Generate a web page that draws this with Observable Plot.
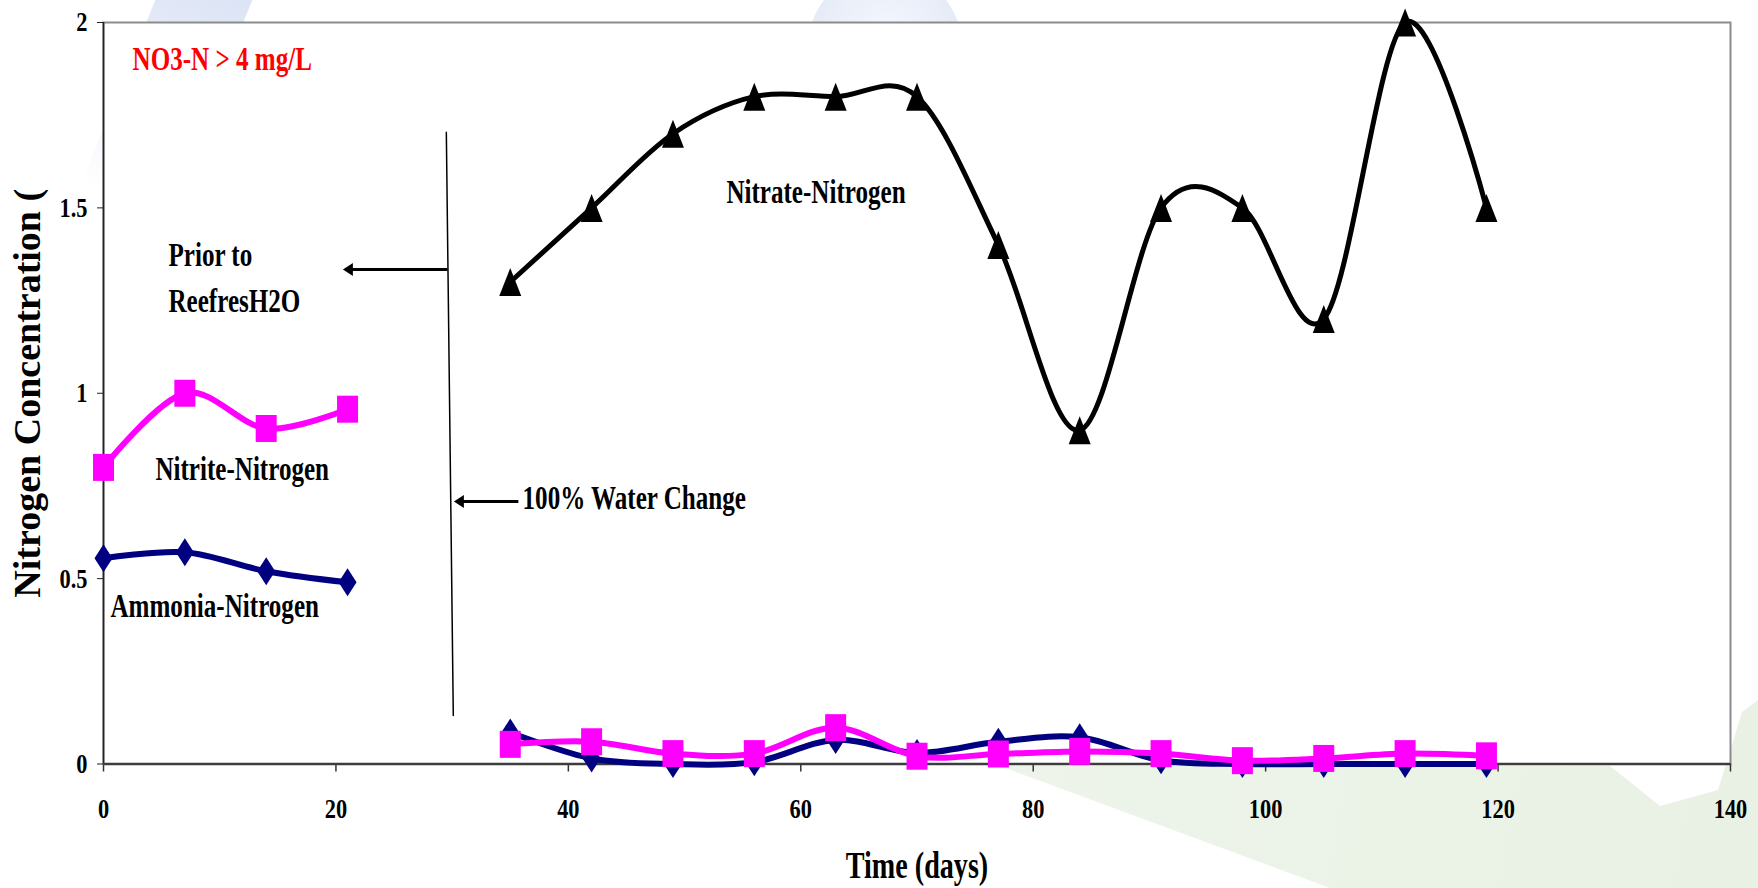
<!DOCTYPE html>
<html>
<head>
<meta charset="utf-8">
<script src="https://cdn.jsdelivr.net/npm/d3@7"></script>
<script src="https://cdn.jsdelivr.net/npm/@observablehq/plot@0.6"></script>
<style>
  html, body { margin: 0; padding: 0; background: #fff; overflow: hidden; }
  #wrap { position: relative; width: 1758px; height: 888px; overflow: hidden; background: #fff; }
  .deco { position: absolute; pointer-events: none; }
  #blue1 { left: 175px; top: -40px; width: 90px; height: 260px;
           background: linear-gradient(to bottom, #d9e1f4 0%, #e6ebf8 40%, rgba(246,248,253,0) 100%);
           transform: rotate(22deg); transform-origin: top center; }
  #blue2 { left: 808px; top: -30px; width: 154px; height: 154px; border-radius: 50%;
           background: radial-gradient(circle at 50% 45%, #f6f8fd 0%, #e8edf8 55%, #d9e1f4 100%); }
  #green { left: 0; top: 0; width: 1758px; height: 888px;
           background: linear-gradient(100deg, rgba(246,250,243,0.5) 0%, #eef4ea 55%, #e9f1e4 100%);
           clip-path: polygon(1000px 766px, 1610px 766px, 1660px 806px, 1718px 790px, 1742px 712px, 1758px 700px, 1758px 888px, 1330px 888px); }
  #chart { position: absolute; left: 0; top: 0; }
</style>
</head>
<body>
<div id="wrap">
  <div class="deco" id="blue1"></div>
  <div class="deco" id="blue2"></div>
  <div class="deco" id="green"></div>
  <div id="chart"></div>
</div>
<script>
// ---- data ----
const daysPre = [0, 7, 14, 21];
const daysPost = [35, 42, 49, 56, 63, 70, 77, 84, 91, 98, 105, 112, 119];
const ammoniaPre = [0.555, 0.571, 0.52, 0.49];
const ammoniaPost = [0.085, 0.015, 0.0, 0.005, 0.065, 0.03, 0.06, 0.072, 0.01, 0.0, 0.0, 0.0, 0.0];
const nitritePre = [0.80, 1.00, 0.905, 0.957];
const nitritePost = [0.053, 0.06, 0.028, 0.028, 0.098, 0.021, 0.027, 0.034, 0.028, 0.009, 0.015, 0.028, 0.022];
const nitratePost = [1.3, 1.5, 1.7, 1.8, 1.8, 1.8, 1.4, 0.9, 1.5, 1.5, 1.2, 2.0, 1.5];
const xTicks = [0, 20, 40, 60, 80, 100, 120, 140];
const yTicks = [0, 0.5, 1, 1.5, 2];

// annotation positions, in data units (days, concentration)
const changeLine = [{day: 29.5, conc: 1.704}, {day: 30.1, conc: 0.131}];
const arrowDays1 = [29.6, 35.7];   // start of arrow shafts
const arrowDays2 = [20.9, 30.45];  // end of shafts (at heads)
const arrowTips = [20.6, 30.15];
const arrowConc = [1.334, 0.708];
const labelTexts = ["Nitrate-Nitrogen", "Prior to", "ReefresH2O", "Nitrite-Nitrogen", "Ammonia-Nitrogen", "100% Water Change"];
const labelDays = [53.6, 5.59, 5.59, 4.47, 0.6, 36.06];
const labelConc = [1.542, 1.372, 1.248, 0.795, 0.425, 0.716];
const noteText = "NO3-N > 4 mg/L";
const noteDay = 2.5, noteConc = 1.900;
const xLabel = "Time (days)";
const yLabel = "Nitrogen Concentration (";

// ---- tables ----
const preRows = daysPre.map((d, i) => ({day: d, ammonia: ammoniaPre[i], nitrite: nitritePre[i]}));
const postRows = daysPost.map((d, i) => ({day: d, ammonia: ammoniaPost[i], nitrite: nitritePost[i], nitrate: nitratePost[i]}));
const arrows = arrowConc.map((c, i) => ({x1: arrowDays1[i], x2: arrowDays2[i], tip: arrowTips[i], conc: c}));
const labels = labelTexts.map((t, i) => ({text: t, day: labelDays[i], conc: labelConc[i]}));

// ---- marker shapes (stretched like the original) ----
const rectSym = {draw(c) { const w = 10.5, h = 13.5; c.moveTo(-w, -h); c.lineTo(w, -h); c.lineTo(w, h); c.lineTo(-w, h); c.closePath(); }};
const diamondSym = {draw(c) { const w = 9, h = 14; c.moveTo(0, -h); c.lineTo(w, 0); c.lineTo(0, h); c.lineTo(-w, 0); c.closePath(); }};
const triSym = {draw(c) { const w = 11, h = 14; c.moveTo(0, -h); c.lineTo(w, h); c.lineTo(-w, h); c.closePath(); }};
const headSym = {draw(c) { c.moveTo(0, 0); c.lineTo(10, -6.5); c.lineTo(10, 6.5); c.closePath(); }};

const FONT = "'Liberation Serif', 'Times New Roman', serif";
const NAVY = "#000080", PINK = "#ff00ff";
const TICK_FS = 28;

const seriesMarks = [];
for (const rows of [preRows, postRows]) {
  seriesMarks.push(
    Plot.line(rows, {x: "day", y: "ammonia", stroke: NAVY, strokeWidth: 6, curve: "cardinal"}),
    Plot.dot(rows, {x: "day", y: "ammonia", symbol: diamondSym, fill: NAVY, stroke: null})
  );
}
for (const rows of [preRows, postRows]) {
  seriesMarks.push(
    Plot.line(rows, {x: "day", y: "nitrite", stroke: PINK, strokeWidth: 6, curve: "cardinal"}),
    Plot.dot(rows, {x: "day", y: "nitrite", symbol: rectSym, fill: PINK, stroke: null})
  );
}
seriesMarks.push(
  Plot.line(postRows, {x: "day", y: "nitrate", stroke: "black", strokeWidth: 5, curve: "cardinal"}),
  Plot.dot(postRows, {x: "day", y: "nitrate", symbol: triSym, fill: "black", stroke: null})
);

const svg = Plot.plot({
  width: 1758,
  height: 888,
  marginLeft: 103,
  marginRight: 28,
  marginTop: 22,
  marginBottom: 124.5,
  x: {domain: [0, 140]},
  y: {domain: [0, 2]},
  style: {background: "transparent", overflow: "visible", fontFamily: FONT},
  marks: [
    Plot.frame({fill: "white", stroke: "#8c8c8c", strokeWidth: 2}),
    // tick lines only (labels drawn below as text marks)
    Plot.axisY({ticks: yTicks, tickFormat: () => "", tickSize: 6, label: null, stroke: "#222"}),
    Plot.axisX({ticks: xTicks, tickFormat: () => "", tickSize: 8, label: null, stroke: "#333", strokeWidth: 1.5}),
    Plot.text(yTicks, {y: d => d, text: d => String(d), frameAnchor: "left", dx: -16, textAnchor: "end", lineAnchor: "middle",
                       fontSize: TICK_FS, fontWeight: "bold", fontFamily: FONT, fill: "black"}),
    Plot.text(xTicks, {x: d => d, text: d => String(d), frameAnchor: "bottom", dy: 34, textAnchor: "middle", lineAnchor: "top",
                       fontSize: TICK_FS, fontWeight: "bold", fontFamily: FONT, fill: "black"}),
    Plot.ruleX([0], {stroke: "#222", strokeWidth: 1.6}),
    Plot.ruleY([0], {stroke: "#3c3c3c", strokeWidth: 2.5}),
    ...seriesMarks,
    // 100% water change divider and arrows
    Plot.line(changeLine, {x: "day", y: "conc", stroke: "black", strokeWidth: 1.5}),
    Plot.link(arrows, {x1: "x1", x2: "x2", y1: "conc", y2: "conc", stroke: "black", strokeWidth: 3}),
    Plot.dot(arrows, {x: "tip", y: "conc", symbol: headSym, fill: "black", stroke: null}),
    // labels
    Plot.text(labels, {x: "day", y: "conc", text: "text", textAnchor: "start", lineAnchor: "middle",
                       fontSize: 33, fontWeight: "bold", fontFamily: FONT, fill: "black"}),
    Plot.text([noteText], {x: () => noteDay, y: () => noteConc, text: d => d, textAnchor: "start", lineAnchor: "middle",
                       fontSize: 33, fontWeight: "bold", fontFamily: FONT, fill: "#ff0000"}),
    Plot.text([xLabel], {text: d => d, frameAnchor: "bottom", dy: 102.5, textAnchor: "middle", lineAnchor: "middle",
                       fontSize: 37, fontWeight: "bold", fontFamily: FONT, fill: "black"}),
    Plot.text([yLabel], {text: d => d, frameAnchor: "left", dx: -76, rotate: -90, textAnchor: "middle", lineAnchor: "middle",
                       fontSize: 38, fontWeight: "bold", fontFamily: FONT, fill: "black"})
  ]
});

document.getElementById("chart").append(svg);

// The original slide is squeezed horizontally: narrow the horizontal texts the same way.
d3.select(svg).selectAll("text").each(function () {
  if (!this.textContent || this.textContent.startsWith("Nitrogen Concentration")) return;
  const fs = parseFloat(getComputedStyle(this).fontSize);
  const k = fs === TICK_FS ? 0.8 : 0.76;
  const len = this.getComputedTextLength();
  if (len > 0) {
    this.setAttribute("textLength", (len * k).toFixed(1));
    this.setAttribute("lengthAdjust", "spacingAndGlyphs");
  }
});
</script>
</body>
</html>
